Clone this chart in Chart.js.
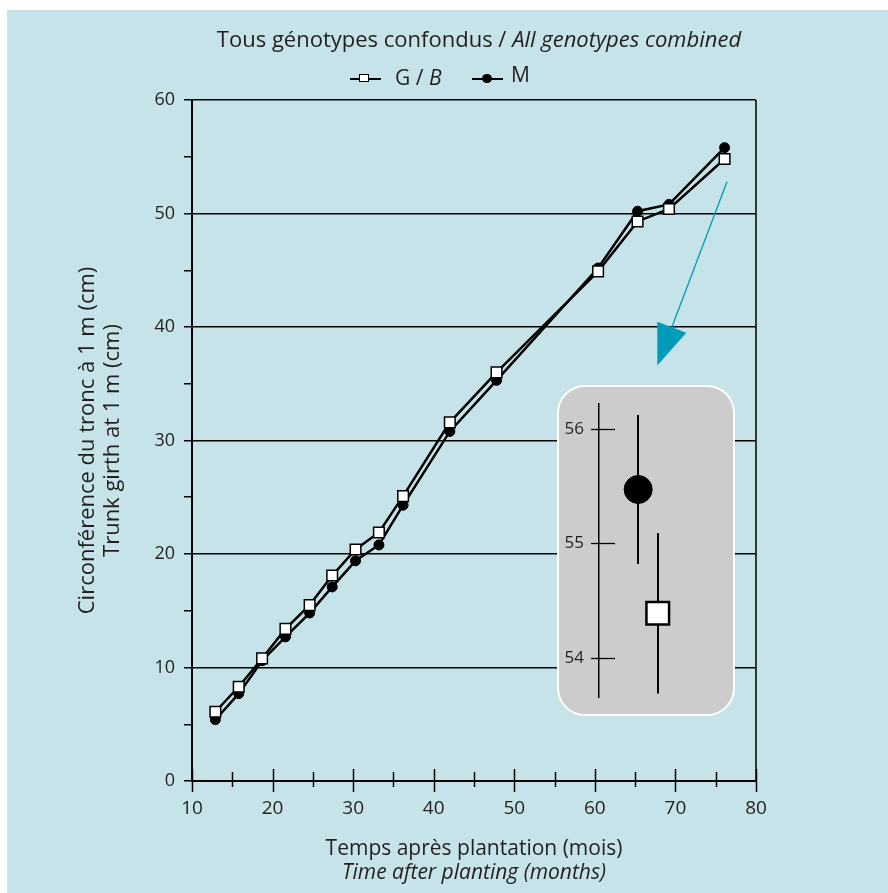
<!DOCTYPE html>
<html lang="fr">
<head>
<meta charset="utf-8">
<title>Circonférence du tronc à 1 m</title>
<script src="https://cdn.jsdelivr.net/npm/chart.js@4.4.1/dist/chart.umd.min.js"></script>
<style>
  html, body { margin: 0; padding: 0; background: #ffffff; }
  #figure { position: relative; width: 888px; height: 893px; overflow: hidden; }
  #panel { position: absolute; left: 7px; top: 10px; right: 0; bottom: 0; background: #c6e3e9; }
  #mainChart { position: absolute; left: 0; top: 0; }
  #zoomBox { position: absolute; left: 557px; top: 385px; width: 178px; height: 331px; box-sizing: border-box;
             background: #cccccc; border: 2px solid #ffffff; border-radius: 28px; }
  #zoomChart { position: absolute; left: 557px; top: 385px; }
  .txt { position: absolute; font-family: "Open Sans", sans-serif; color: #231f20; white-space: nowrap; }
  #title { left: 479px; top: 25px; transform: translateX(-50%); font-size: 22px; line-height: 26px; }
  #xTitle { left: 474px; top: 835px; transform: translateX(-50%); text-align: center; font-size: 21px; line-height: 24px; }
  .sym { position: absolute; width: 31px; height: 2px; background: #000; }
  .sq { position: absolute; width: 8px; height: 6px; background: #fff; border: 1.5px solid #000; }
  .dot { position: absolute; width: 10px; height: 9px; border-radius: 50%; background: #000; }
  .leg { font-size: 21px; line-height: 24px; }
</style>
</head>
<body>
<div id="figure">
  <div id="panel"></div>
  <canvas id="mainChart" width="888" height="893"></canvas>

  <div id="title" class="txt">Tous génotypes confondus / <i>All genotypes combined</i></div>

  <div class="sym" style="left:350px; top:78px;"></div>
  <div class="sq" style="left:359px; top:74px;"></div>
  <div class="txt leg" style="left:395px; top:65px;">G / <i>B</i></div>
  <div class="sym" style="left:472px; top:78px;"></div>
  <div class="dot" style="left:482px; top:74px;"></div>
  <div class="txt leg" style="left:511px; top:62px;">M</div>

  <div id="xTitle" class="txt">Temps après plantation (mois)<br><i>Time after planting (months)</i></div>

  <div id="zoomBox"></div>
  <canvas id="zoomChart" width="178" height="331"></canvas>
</div>

<script>
// Dates de mesure (mois après plantation)
const months = [12.9, 15.8, 18.7, 21.6, 24.6, 27.4, 30.3, 33.2, 36.2, 42.0, 47.8, 60.4, 65.3, 69.2, 76.1];
// Circonférence moyenne du tronc à 1 m (cm)
const girthG = [6.1, 8.3, 10.8, 13.4, 15.5, 18.1, 20.4, 21.9, 25.1, 31.6, 36.0, 44.9, 49.3, 50.4, 54.8];
const girthM = [5.4, 7.7, 10.6, 12.7, 14.8, 17.1, 19.4, 20.8, 24.3, 30.8, 35.3, 45.2, 50.2, 50.8, 55.8];
// Graduations principales
const xTickValues = [10, 20, 30, 40, 50, 60, 70, 80];
const yTickValues = [0, 10, 20, 30, 40, 50, 60];
// Détail du dernier relevé : moyenne et erreur
const detailSeries = ['M', 'G / B'];
const detailMeans = [55.47, 54.39];
const detailErrors = [0.65, 0.70];
const detailTicks = [54, 55, 56];
// Flèche de renvoi vers le détail (coordonnées du graphique)
const pointer = { from: { x: 76.4, y: 52.8 }, to: { x: 67.75, y: 36.6 } };

const FONT = '"Open Sans", sans-serif';
const INK = '#231f20';
const TEAL = '#009bb8';

const withMinor = (vals) => {
  const out = [];
  vals.forEach((v, i) => {
    out.push({ value: v, major: true });
    if (i < vals.length - 1) out.push({ value: (v + vals[i + 1]) / 2, major: false });
  });
  return out;
};
const isMajorY = (v) => yTickValues.includes(v);

// Graduations de l'axe des x qui traversent l'axe, cadre droit et flèche
const frameAndTicks = {
  id: 'frameAndTicks',
  afterDraw(chart) {
    const { ctx, chartArea: a, scales: { x, y } } = chart;
    ctx.save();
    ctx.strokeStyle = '#000';
    ctx.lineWidth = 1.5;
    ctx.beginPath();
    ctx.moveTo(a.right, a.top);
    ctx.lineTo(a.right, a.bottom);
    ctx.stroke();
    withMinor(xTickValues).forEach((t) => {
      const px = Math.round(x.getPixelForValue(t.value)) + 0.5;
      ctx.beginPath();
      ctx.moveTo(px, a.bottom - (t.major ? 12 : 9));
      ctx.lineTo(px, a.bottom + (t.major ? 11 : 6));
      ctx.stroke();
    });

    const x0 = x.getPixelForValue(pointer.from.x), y0 = y.getPixelForValue(pointer.from.y);
    const x1 = x.getPixelForValue(pointer.to.x), y1 = y.getPixelForValue(pointer.to.y);
    const ang = Math.atan2(y1 - y0, x1 - x0);
    const headLen = 41, headHalf = 15.5;
    const bx = x1 - headLen * Math.cos(ang), by = y1 - headLen * Math.sin(ang);
    ctx.strokeStyle = TEAL;
    ctx.fillStyle = TEAL;
    ctx.lineWidth = 1.3;
    ctx.beginPath();
    ctx.moveTo(x0, y0);
    ctx.lineTo(bx, by);
    ctx.stroke();
    ctx.beginPath();
    ctx.moveTo(x1, y1);
    ctx.lineTo(bx + headHalf * Math.sin(ang), by - headHalf * Math.cos(ang));
    ctx.lineTo(bx - headHalf * Math.sin(ang), by + headHalf * Math.cos(ang));
    ctx.closePath();
    ctx.fill();
    ctx.restore();
  }
};

new Chart(document.getElementById('mainChart'), {
  type: 'line',
  data: {
    datasets: [
      {
        label: 'G / B',
        data: girthG.map((v, i) => ({ x: months[i], y: v })),
        borderColor: '#000',
        borderWidth: 2.5,
        pointStyle: 'rect',
        pointRadius: 7.5,
        pointBackgroundColor: '#fff',
        pointBorderColor: '#000',
        pointBorderWidth: 1.5,
        tension: 0,
        order: 0
      },
      {
        label: 'M',
        data: girthM.map((v, i) => ({ x: months[i], y: v })),
        borderColor: '#000',
        borderWidth: 2.5,
        pointStyle: 'circle',
        pointRadius: 5,
        pointBackgroundColor: '#000',
        pointBorderColor: '#000',
        pointBorderWidth: 1,
        tension: 0,
        order: 1
      }
    ]
  },
  options: {
    responsive: false,
    animation: false,
    devicePixelRatio: 1,
    events: [],
    layout: { padding: { left: 0, top: 100, right: 132, bottom: 0 } },
    plugins: { legend: { display: false }, tooltip: { enabled: false } },
    scales: {
      x: {
        type: 'linear',
        min: 10,
        max: 80,
        afterBuildTicks: (s) => { s.ticks = xTickValues.map((v) => ({ value: v })); },
        afterFit: (s) => { s.height = 112; s.paddingLeft = 0; s.paddingRight = 0; },
        grid: { drawOnChartArea: false, drawTicks: false },
        border: { display: true, color: '#000', width: 2 },
        ticks: { padding: 16, color: INK, font: { family: FONT, size: 19 } }
      },
      y: {
        min: 0,
        max: 60,
        afterBuildTicks: (s) => { s.ticks = withMinor(yTickValues).map((t) => ({ value: t.value })); },
        afterFit: (s) => { s.width = 192; s.paddingTop = 0; s.paddingBottom = 0; },
        grid: {
          color: (c) => (c.tick && isMajorY(c.tick.value) && c.tick.value > 0) ? '#000' : 'rgba(0,0,0,0)',
          tickColor: '#000',
          lineWidth: 1.5,
          tickLength: 8
        },
        border: { display: true, color: '#000', width: 2 },
        ticks: {
          padding: 9,
          color: INK,
          font: { family: FONT, size: 18 },
          callback: (v) => (isMajorY(v) ? String(v) : '')
        },
        title: {
          display: true,
          text: ['Circonférence du tronc à 1 m (cm)', 'Trunk girth at 1 m (cm)'],
          color: INK,
          font: { family: FONT, size: 22, lineHeight: 1.14 },
          padding: { top: 75, bottom: 0 }
        }
      }
    }
  },
  plugins: [frameAndTicks]
});

// Détail : moyennes et barres d'erreur du dernier relevé
const errorBars = {
  id: 'errorBars',
  beforeDatasetsDraw(chart) {
    const { ctx, scales: { y } } = chart;
    ctx.save();
    ctx.strokeStyle = '#000';
    ctx.lineWidth = 2;
    chart.data.datasets.forEach((ds, i) => {
      const pt = chart.getDatasetMeta(i).data[0];
      const px = Math.round(pt.x);
      ctx.beginPath();
      ctx.moveTo(px, y.getPixelForValue(detailMeans[i] + detailErrors[i]));
      ctx.lineTo(px, y.getPixelForValue(detailMeans[i] - detailErrors[i]));
      ctx.stroke();
    });
    ctx.restore();
  },
  afterDraw(chart) {
    const { ctx, chartArea: a, scales: { y } } = chart;
    ctx.save();
    ctx.strokeStyle = '#000';
    ctx.lineWidth = 1.3;
    detailTicks.forEach((v) => {
      const py = Math.round(y.getPixelForValue(v)) + 0.5;
      ctx.beginPath();
      ctx.moveTo(a.left - 8, py);
      ctx.lineTo(a.left + 16, py);
      ctx.stroke();
    });
    ctx.restore();
  }
};

new Chart(document.getElementById('zoomChart'), {
  type: 'scatter',
  data: {
    datasets: [
      {
        label: detailSeries[0],
        data: [{ x: 0, y: detailMeans[0] }],
        pointStyle: 'circle',
        pointRadius: 14,
        pointBackgroundColor: '#000',
        pointBorderColor: '#000',
        pointBorderWidth: 1
      },
      {
        label: detailSeries[1],
        data: [{ x: 1, y: detailMeans[1] }],
        pointStyle: 'rect',
        pointRadius: 16,
        pointBackgroundColor: '#fff',
        pointBorderColor: '#000',
        pointBorderWidth: 2.5
      }
    ]
  },
  options: {
    responsive: false,
    animation: false,
    devicePixelRatio: 1,
    events: [],
    layout: { padding: { left: 0, top: 11, right: 16, bottom: 19 } },
    plugins: { legend: { display: false }, tooltip: { enabled: false } },
    scales: {
      x: { type: 'linear', display: false, min: -2, max: 4 },
      y: {
        min: 53.66,
        max: 56.22,
        afterBuildTicks: (s) => { s.ticks = detailTicks.map((v) => ({ value: v })); },
        afterFit: (s) => { s.width = 42; s.paddingTop = 0; s.paddingBottom = 0; },
        grid: { drawOnChartArea: false, drawTicks: false },
        border: { display: true, color: '#000', width: 1.5 },
        ticks: { padding: 15, color: INK, font: { family: FONT, size: 17 } }
      }
    }
  },
  plugins: [errorBars]
});
</script>
</body>
</html>
